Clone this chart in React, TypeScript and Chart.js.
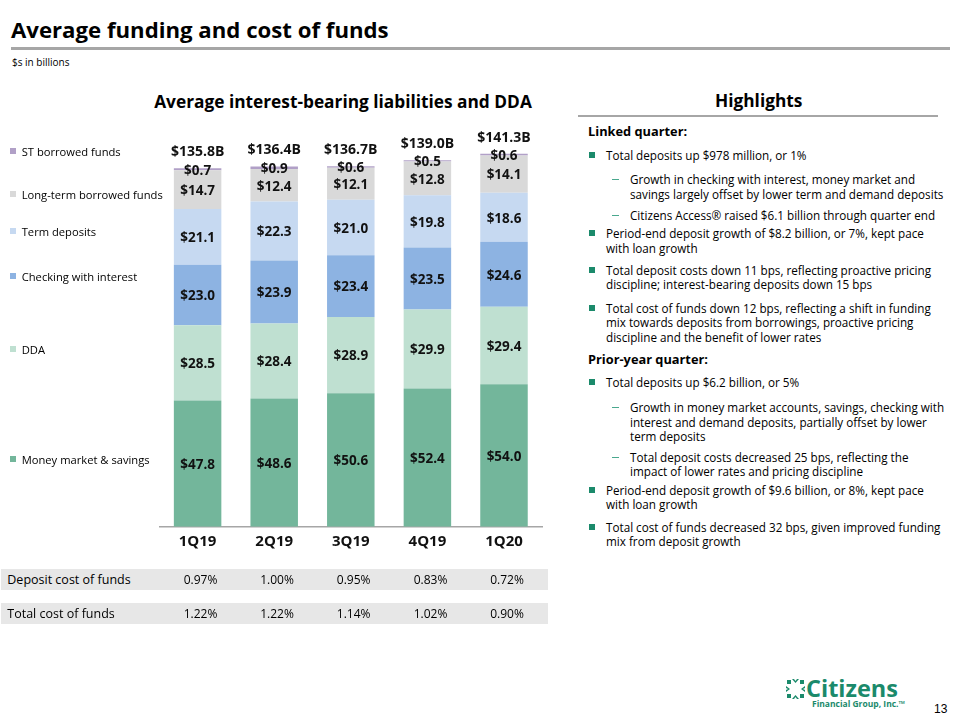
import React, { useEffect, useRef } from "react";
import { Chart, registerables } from "chart.js";

Chart.register(...registerables);

// ---------------- data ----------------
const categories = ["1Q19", "2Q19", "3Q19", "4Q19", "1Q20"];
const moneyMarketSavings = [47.8, 48.6, 50.6, 52.4, 54.0];
const ddaValues = [28.5, 28.4, 28.9, 29.9, 29.4];
const checkingWithInterest = [23.0, 23.9, 23.4, 23.5, 24.6];
const termDeposits = [21.1, 22.3, 21.0, 19.8, 18.6];
const longTermBorrowed = [14.7, 12.4, 12.1, 12.8, 14.1];
const stBorrowed = [0.7, 0.9, 0.6, 0.5, 0.6];
const totalLabels = ["$135.8B", "$136.4B", "$136.7B", "$139.0B", "$141.3B"];
const depositCostOfFunds = ["0.97%", "1.00%", "0.95%", "0.83%", "0.72%"];
const totalCostOfFunds = ["1.22%", "1.22%", "1.14%", "1.02%", "0.90%"];
const seriesNames = [
  "Money market & savings",
  "DDA",
  "Checking with interest",
  "Term deposits",
  "Long-term borrowed funds",
  "ST borrowed funds",
];

// ---------------- styles ----------------
const COLORS = ["#73b69b", "#bfe0d1", "#8db3e2", "#c6d9f1", "#d9d9d9", "#b1a0c7"];
const FONT = "'Open Sans', 'Noto Sans', sans-serif";
const GREEN = "#1b8a6b";

const labelPlugin = {
  id: "segLabels",
  afterDatasetsDraw(chart: any) {
    const ctx = chart.ctx;
    ctx.save();
    ctx.textAlign = "center";
    ctx.textBaseline = "middle";
    ctx.fillStyle = "#111";
    ctx.font = `bold 13.5px ${FONT}`;
    chart.data.datasets.forEach((ds: any, i: number) => {
      const meta = chart.getDatasetMeta(i);
      meta.data.forEach((el: any, j: number) => {
        const p = el.getProps(["x", "y", "base"], true);
        const v = ds.data[j] as number;
        ctx.fillText("$" + v.toFixed(1), p.x, (p.y + p.base) / 2 + 1.5);
      });
    });
    const topMeta = chart.getDatasetMeta(chart.data.datasets.length - 1);
    ctx.font = `bold 14px ${FONT}`;
    topMeta.data.forEach((el: any, j: number) => {
      const p = el.getProps(["x", "y"], true);
      ctx.fillText(totalLabels[j], p.x, p.y - 16);
    });
    ctx.restore();
  },
};

function BarChart() {
  const ref = useRef<HTMLCanvasElement | null>(null);
  useEffect(() => {
    if (!ref.current) return;
    const series = [
      moneyMarketSavings,
      ddaValues,
      checkingWithInterest,
      termDeposits,
      longTermBorrowed,
      stBorrowed,
    ];
    const chart = new Chart(ref.current, {
      type: "bar",
      data: {
        labels: categories,
        datasets: series.map((d, i) => ({
          label: seriesNames[i],
          data: d,
          backgroundColor: COLORS[i],
          borderWidth: 0,
          categoryPercentage: 1,
          barPercentage: 0.62,
        })),
      },
      options: {
        animation: false,
        responsive: false,
        maintainAspectRatio: false,
        layout: { padding: { left: 159.3, right: 17.7, top: 104.5, bottom: 13.3 } },
        plugins: {
          legend: { display: false },
          tooltip: { enabled: false },
          title: { display: false },
        },
        scales: {
          x: {
            stacked: true,
            grid: { display: false, drawTicks: false },
            border: { display: true, color: "#a6a6a6", width: 1.5 },
            ticks: {
              color: "#111",
              font: { family: FONT, size: 15, weight: "bold" },
              padding: 6,
              maxRotation: 0,
            },
            afterFit: (s: any) => {
              s.height = 30;
            },
          },
          y: { stacked: true, display: false, min: 0, max: 160 },
        },
      } as any,
      plugins: [labelPlugin],
    });
    return () => chart.destroy();
  }, []);
  return (
    <canvas
      ref={ref}
      width={560}
      height={570}
      style={{ position: "absolute", left: 0, top: 0, width: 560, height: 570 }}
    />
  );
}

function T(props: {
  x: number;
  y: number;
  size: number;
  bold?: boolean;
  color?: string;
  center?: boolean;
  family?: string;
  children: React.ReactNode;
}) {
  const lh = Math.round(props.size * 1.5);
  const style: React.CSSProperties = {
    position: "absolute",
    top: props.y - lh / 2,
    lineHeight: lh + "px",
    fontSize: props.size,
    fontWeight: props.bold ? 700 : 400,
    color: props.color || "#000",
    whiteSpace: "nowrap",
    fontFamily: props.family || FONT,
  };
  if (props.center) {
    style.left = props.x - 300;
    style.width = 600;
    style.textAlign = "center";
  } else {
    style.left = props.x;
  }
  return <div style={style}>{props.children}</div>;
}

const legendRows = [
  { idx: 5, y: 151 },
  { idx: 4, y: 194.3 },
  { idx: 3, y: 231 },
  { idx: 2, y: 276 },
  { idx: 1, y: 349 },
  { idx: 0, y: 459 },
];

const highlights: { t: string; y: number; lines: string[] }[] = [
  { t: "h", y: 131.7, lines: ["Linked quarter:"] },
  { t: "b", y: 154.7, lines: ["Total deposits up $978 million, or 1%"] },
  {
    t: "d",
    y: 179.3,
    lines: [
      "Growth in checking with interest, money market and",
      "savings largely offset by lower term and demand deposits",
    ],
  },
  { t: "d", y: 215, lines: ["Citizens Access® raised $6.1 billion through quarter end"] },
  {
    t: "b",
    y: 233.3,
    lines: ["Period-end deposit growth of $8.2 billion, or 7%, kept pace", "with loan growth"],
  },
  {
    t: "b",
    y: 270,
    lines: [
      "Total deposit costs down 11 bps, reflecting proactive pricing",
      "discipline; interest-bearing deposits down 15 bps",
    ],
  },
  {
    t: "b",
    y: 307.7,
    lines: [
      "Total cost of funds down 12 bps, reflecting a shift in funding",
      "mix towards deposits from borrowings, proactive pricing",
      "discipline and the benefit of lower rates",
    ],
  },
  { t: "h", y: 359.3, lines: ["Prior-year quarter:"] },
  { t: "b", y: 382.3, lines: ["Total deposits up $6.2 billion, or 5%"] },
  {
    t: "d",
    y: 407.3,
    lines: [
      "Growth in money market accounts, savings, checking with",
      "interest and demand deposits, partially offset by lower",
      "term deposits",
    ],
  },
  {
    t: "d",
    y: 456.7,
    lines: [
      "Total deposit costs decreased 25 bps, reflecting the",
      "impact of lower rates and pricing discipline",
    ],
  },
  {
    t: "b",
    y: 490,
    lines: ["Period-end deposit growth of $9.6 billion, or 8%, kept pace", "with loan growth"],
  },
  {
    t: "b",
    y: 526.7,
    lines: [
      "Total cost of funds decreased 32 bps, given improved funding",
      "mix from deposit growth",
    ],
  },
];

const tableCols = [200.5, 277, 353.7, 430.5, 507];

function Logo() {
  return (
    <div style={{ position: "absolute", left: 786, top: 676 }}>
      <svg width={19} height={20} viewBox="0 0 19 20" style={{ position: "absolute", left: 0, top: 3 }}>
        <g fill={GREEN}>
          <polygon points="6,0 9.5,4 13,0 11,0 9.5,2 8,0" />
          <polygon points="6,20 9.5,16 13,20 11,20 9.5,18 8,20" />
          <polygon points="0,7 4,10 0,13 0,11 2,10 0,9" />
          <polygon points="19,7 15,10 19,13 19,11 17,10 19,9" />
          <rect x="1" y="1" width="4" height="4" />
          <rect x="14" y="1" width="4" height="4" />
          <rect x="1" y="15" width="4" height="4" />
          <rect x="14" y="15" width="4" height="4" />
        </g>
      </svg>
      <div
        style={{
          position: "absolute",
          left: 20,
          top: -4,
          fontFamily: FONT,
          fontWeight: 700,
          fontSize: 23.5,
          lineHeight: "32px",
          color: GREEN,
          whiteSpace: "nowrap",
        }}
      >
        Citizens
      </div>
      <div
        style={{
          position: "absolute",
          left: 26,
          top: 22,
          fontFamily: FONT,
          fontWeight: 700,
          fontSize: 8.5,
          lineHeight: "12px",
          color: GREEN,
          whiteSpace: "nowrap",
        }}
      >
        Financial Group, Inc.™
      </div>
    </div>
  );
}

export default function App() {
  return (
    <div
      style={{
        position: "absolute",
        left: 0,
        top: 0,
        width: 960,
        height: 720,
        background: "#fff",
        fontFamily: FONT,
        overflow: "hidden",
      }}
    >
      <T x={11} y={29} size={22.2} bold>
        Average funding and cost of funds
      </T>
      <div style={{ position: "absolute", left: 11, top: 47, width: 939, height: 2.5, background: "#a6a6a6" }} />
      <T x={12} y={62} size={10}>
        $s in billions
      </T>

      <T x={343} y={102} size={17.3} bold center>
        Average interest-bearing liabilities and DDA
      </T>
      <T x={758.7} y={101} size={17.3} bold center>
        Highlights
      </T>
      <div style={{ position: "absolute", left: 578, top: 115, width: 360, height: 2, background: "#a6a6a6" }} />

      <BarChart />

      {legendRows.map((r) => (
        <React.Fragment key={r.idx}>
          <div
            style={{
              position: "absolute",
              left: 9.5,
              top: r.y - 3.5,
              width: 6.5,
              height: 6.5,
              background: COLORS[r.idx],
            }}
          />
          <T x={21.7} y={r.y} size={11.2}>
            {seriesNames[r.idx]}
          </T>
        </React.Fragment>
      ))}

      {/* cost of funds table */}
      <div style={{ position: "absolute", left: 1, top: 569.3, width: 547, height: 20.5, background: "#e7e7e7" }} />
      <div style={{ position: "absolute", left: 1, top: 603.3, width: 547, height: 20.5, background: "#e7e7e7" }} />
      <T x={7.3} y={579.5} size={12.5}>
        Deposit cost of funds
      </T>
      <T x={7.3} y={613.7} size={12.5}>
        Total cost of funds
      </T>
      {tableCols.map((cx, i) => (
        <React.Fragment key={i}>
          <T x={cx} y={579.5} size={12} center>
            {depositCostOfFunds[i]}
          </T>
          <T x={cx} y={613.7} size={12} center>
            {totalCostOfFunds[i]}
          </T>
        </React.Fragment>
      ))}

      {/* highlights */}
      {highlights.map((h, k) => {
        if (h.t === "h") {
          return (
            <T key={k} x={588} y={h.y} size={12.8} bold>
              {h.lines[0]}
            </T>
          );
        }
        const textX = h.t === "b" ? 606 : 630;
        return (
          <React.Fragment key={k}>
            {h.t === "b" ? (
              <div
                style={{ position: "absolute", left: 589, top: h.y - 3, width: 6, height: 6, background: GREEN }}
              />
            ) : (
              <div
                style={{ position: "absolute", left: 611.5, top: h.y, width: 7.5, height: 1.2, background: "#4aa88e" }}
              />
            )}
            {h.lines.map((ln, li) => (
              <T key={li} x={textX} y={h.y + li * 14.4} size={11.7}>
                {ln}
              </T>
            ))}
          </React.Fragment>
        );
      })}

      <Logo />
      <T x={934} y={709.3} size={12} family="'Liberation Sans', Arial, sans-serif">
        13
      </T>
    </div>
  );
}
